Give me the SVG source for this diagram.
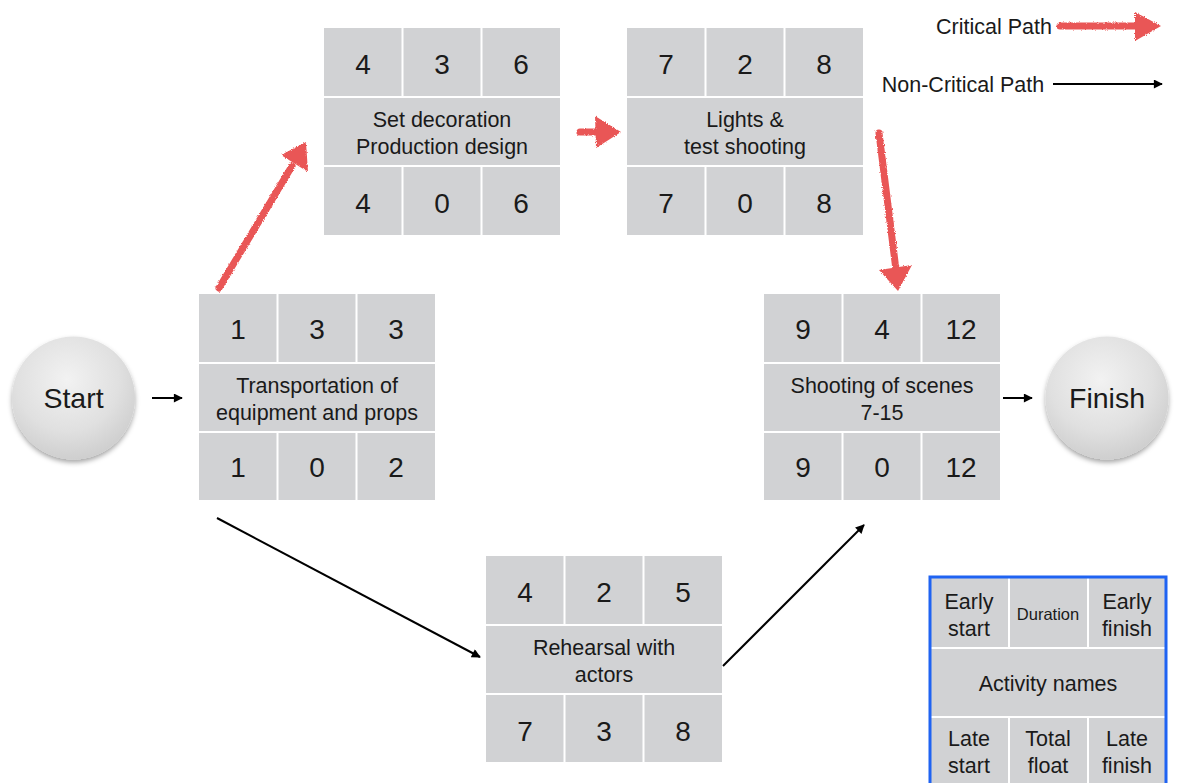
<svg xmlns="http://www.w3.org/2000/svg" width="1179" height="783" viewBox="0 0 1179 783">
<defs>
<style>
.cell{fill:#d1d2d4}
.sep{stroke:#ffffff;stroke-width:2;fill:none}
.num{font-family:"Liberation Sans",Arial,sans-serif;font-size:28px;fill:#1a1a1a;text-anchor:middle}
.lbl{font-family:"Liberation Sans",Arial,sans-serif;font-size:21.5px;fill:#1a1a1a;text-anchor:middle}
.small{font-family:"Liberation Sans",Arial,sans-serif;font-size:16.5px;fill:#1a1a1a;text-anchor:middle}
.big{font-family:"Liberation Sans",Arial,sans-serif;font-size:28.5px;fill:#1a1a1a;text-anchor:middle}
.blk{stroke:#000;stroke-width:2;fill:none;marker-end:url(#ah)}
.red{stroke:#e95656;stroke-width:7;stroke-linecap:round;fill:none}
.redh{fill:#e95656}
</style>
<marker id="ah" viewBox="0 0 10 10" refX="9" refY="5" markerWidth="11" markerHeight="9" markerUnits="userSpaceOnUse" orient="auto">
<path d="M0,0 L10,5 L0,10 z" fill="#000"/>
</marker>
<radialGradient id="cg" cx="0.45" cy="0.35" r="0.7">
<stop offset="0" stop-color="#f2f2f2"/>
<stop offset="0.6" stop-color="#e0e0e0"/>
<stop offset="1" stop-color="#cbcbcb"/>
</radialGradient>
<filter id="sh" x="-30%" y="-30%" width="160%" height="170%">
<feDropShadow dx="0" dy="3" stdDeviation="2.5" flood-color="#000" flood-opacity="0.35"/>
</filter>
<filter id="rough" x="-10%" y="-10%" width="120%" height="120%">
<feTurbulence type="fractalNoise" baseFrequency="0.9" numOctaves="2" seed="3" result="n"/>
<feDisplacementMap in="SourceGraphic" in2="n" scale="3" xChannelSelector="R" yChannelSelector="G"/>
</filter>
</defs>
<rect width="1179" height="783" fill="#ffffff"/>

<g id="legend-paths">
<text class="lbl" x="994" y="34">Critical Path</text>
<text class="lbl" x="963" y="92">Non-Critical Path</text>
<g filter="url(#rough)">
<line class="red" x1="1060" y1="26" x2="1138" y2="26"/>
<path class="redh" d="M1135,12 L1161,26 L1135,41 z"/>
</g>
<line class="blk" x1="1053" y1="84" x2="1162" y2="84"/>
</g>

<g id="start" filter="url(#sh)">
<circle cx="73.5" cy="398" r="61.5" fill="url(#cg)"/>
</g>
<text class="big" x="73.5" y="408">Start</text>

<g id="finish" filter="url(#sh)">
<circle cx="1107" cy="398" r="61.5" fill="url(#cg)"/>
</g>
<text class="big" x="1107" y="408">Finish</text>

<g id="transport" transform="translate(199,294)">
<rect class="cell" width="236" height="206"/>
<path class="sep" d="M0,69 H236 M0,138 H236 M78.5,0 V69 M157.5,0 V69 M78.5,138 V206 M157.5,138 V206"/>
<text class="num" x="39" y="45">1</text><text class="num" x="118" y="45">3</text><text class="num" x="197" y="45">3</text>
<text class="lbl" x="118" y="99">Transportation of</text>
<text class="lbl" x="118" y="126">equipment and props</text>
<text class="num" x="39" y="183">1</text><text class="num" x="118" y="183">0</text><text class="num" x="197" y="183">2</text>
</g>

<g id="setdeco" transform="translate(324,28)">
<rect class="cell" width="236" height="207"/>
<path class="sep" d="M0,69 H236 M0,138 H236 M78.5,0 V69 M157.5,0 V69 M78.5,138 V207 M157.5,138 V207"/>
<text class="num" x="39" y="46">4</text><text class="num" x="118" y="46">3</text><text class="num" x="197" y="46">6</text>
<text class="lbl" x="118" y="99">Set decoration</text>
<text class="lbl" x="118" y="126">Production design</text>
<text class="num" x="39" y="185">4</text><text class="num" x="118" y="185">0</text><text class="num" x="197" y="185">6</text>
</g>

<g id="lights" transform="translate(627,28)">
<rect class="cell" width="236" height="207"/>
<path class="sep" d="M0,69 H236 M0,138 H236 M78.5,0 V69 M157.5,0 V69 M78.5,138 V207 M157.5,138 V207"/>
<text class="num" x="39" y="46">7</text><text class="num" x="118" y="46">2</text><text class="num" x="197" y="46">8</text>
<text class="lbl" x="118" y="99">Lights &amp;</text>
<text class="lbl" x="118" y="126">test shooting</text>
<text class="num" x="39" y="185">7</text><text class="num" x="118" y="185">0</text><text class="num" x="197" y="185">8</text>
</g>

<g id="shooting" transform="translate(764,294)">
<rect class="cell" width="236" height="206"/>
<path class="sep" d="M0,69 H236 M0,138 H236 M78.5,0 V69 M157.5,0 V69 M78.5,138 V206 M157.5,138 V206"/>
<text class="num" x="39" y="45">9</text><text class="num" x="118" y="45">4</text><text class="num" x="197" y="45">12</text>
<text class="lbl" x="118" y="99">Shooting of scenes</text>
<text class="lbl" x="118" y="126">7-15</text>
<text class="num" x="39" y="183">9</text><text class="num" x="118" y="183">0</text><text class="num" x="197" y="183">12</text>
</g>

<g id="rehearsal" transform="translate(486,556)">
<rect class="cell" width="236" height="206"/>
<path class="sep" d="M0,69 H236 M0,138 H236 M78.5,0 V69 M157.5,0 V69 M78.5,138 V206 M157.5,138 V206"/>
<text class="num" x="39" y="46">4</text><text class="num" x="118" y="46">2</text><text class="num" x="197" y="46">5</text>
<text class="lbl" x="118" y="99">Rehearsal with</text>
<text class="lbl" x="118" y="126">actors</text>
<text class="num" x="39" y="185">7</text><text class="num" x="118" y="185">3</text><text class="num" x="197" y="185">8</text>
</g>

<g id="legend-box">
<rect class="cell" x="930" y="577" width="236" height="210"/>
<path class="sep" d="M930,648 H1166 M930,717 H1166 M1009,577 V648 M1088,577 V648 M1009,717 V787 M1088,717 V787"/>
<rect x="930" y="577" width="236" height="210" fill="none" stroke="#1f63f2" stroke-width="3"/>
<text class="lbl" x="969" y="609">Early</text>
<text class="lbl" x="969" y="636">start</text>
<text class="small" x="1048" y="620">Duration</text>
<text class="lbl" x="1127" y="609">Early</text>
<text class="lbl" x="1127" y="636">finish</text>
<text class="lbl" x="1048" y="691">Activity names</text>
<text class="lbl" x="969" y="746">Late</text>
<text class="lbl" x="969" y="773">start</text>
<text class="lbl" x="1048" y="746">Total</text>
<text class="lbl" x="1048" y="773">float</text>
<text class="lbl" x="1127" y="746">Late</text>
<text class="lbl" x="1127" y="773">finish</text>
</g>

<g id="connectors">
<line class="blk" x1="152" y1="398" x2="182" y2="398"/>
<line class="blk" x1="1003" y1="398" x2="1032" y2="398"/>
<line class="blk" x1="217" y1="518" x2="480" y2="657"/>
<line class="blk" x1="723" y1="666" x2="864" y2="525"/>
<g filter="url(#rough)">
<line class="red" x1="219" y1="288" x2="292" y2="166"/>
<path class="redh" d="M281,155 L306,142 L308,172 z"/>
<line class="red" x1="580" y1="132" x2="600" y2="132"/>
<path class="redh" d="M595,116 L621,132 L596,148 z"/>
<line class="red" x1="879" y1="133" x2="896" y2="270"/>
<path class="redh" d="M879,270 L912,265 L898,291 z"/>
</g>
</g>
</svg>
